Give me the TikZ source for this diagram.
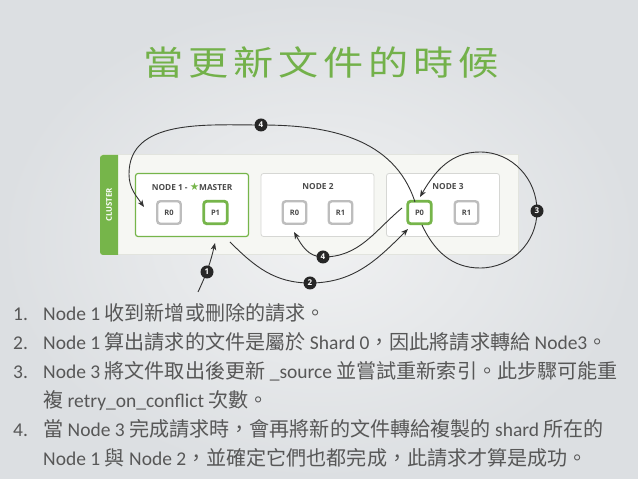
\documentclass[tikz,border=0pt]{standalone}
\usepackage{fontspec}
\setmainfont{Carlito}
\newfontfamily\cjk[Scale=1.03]{Noto Sans CJK TC}
\newfontfamily\cjktitle[LetterSpace=12]{Noto Sans CJK TC}
\newfontfamily\osans{Open Sans}
\newfontfamily\dvs{DejaVu Sans}
\usetikzlibrary{arrows.meta}
\definecolor{bgin}{HTML}{F0F1F2}
\definecolor{bgout}{HTML}{DCDFE2}
\definecolor{esgreen}{HTML}{76B54A}
\definecolor{ttlgreen}{HTML}{73B14A}
\definecolor{bandfill}{HTML}{F6F7F3}
\definecolor{bandline}{HTML}{E2E4DE}
\definecolor{boxline}{HTML}{D6D7D4}
\definecolor{shardline}{HTML}{BDBDBD}
\definecolor{lbl}{HTML}{4A4A4A}
\definecolor{arrowc}{HTML}{333333}
\definecolor{txt}{HTML}{575757}
\newcommand\zh[1]{{\cjk #1}}
\tikzset{
  nodebox/.style={draw=boxline, line width=0.8pt, fill=white, rounded corners=2.5pt,
    minimum width=113pt, minimum height=63pt, inner sep=0pt},
  masterbox/.style={nodebox, draw=esgreen, line width=1.2pt},
  hdr/.style={font=\osans\bfseries\fontsize{8.3}{9}\selectfont, text=lbl, inner sep=0pt},
  shard/.style={draw=shardline, line width=2.4pt, fill=white, rounded corners=3pt,
    minimum width=23.5pt, minimum height=22.5pt, inner sep=0pt,
    font=\osans\bfseries\fontsize{7.5}{8}\selectfont, text=lbl},
  pshard/.style={shard, draw=esgreen, line width=2.8pt},
  arr/.style={draw=arrowc, line width=0.9pt, -{Stealth[length=7pt,width=5.5pt,inset=2pt]}},
  num/.style={circle, fill=black!85, minimum size=13pt, inner sep=0pt,
    font=\osans\bfseries\fontsize{8}{8}\selectfont, text=white},
  line/.style={anchor=base west, inner sep=0pt, text=txt, font=\fontsize{19.5}{22}\selectfont},
}
\begin{document}
\begin{tikzpicture}[x=1pt,y=1pt]
\useasboundingbox (0,0) rectangle (638,479);
\shade[inner color=bgin, outer color=bgout] (0,0) rectangle (638,479);

% title
\node[anchor=base, inner sep=0pt, text=ttlgreen] (title) at (321,403)
  {\scalebox{1.18}[1]{\cjktitle\fontsize{34}{38}\selectfont 當更新文件的時候}};

% cluster band
\node[draw=bandline, line width=0.6pt, fill=bandfill, anchor=south west,
  minimum width=418pt, minimum height=100pt, inner sep=0pt] (cluster) at (100,224) {};
\fill[esgreen] (118,224) -- (103,224) arc[start angle=270, end angle=180, radius=3]
  -- (100,321) arc[start angle=180, end angle=90, radius=3] -- (118,324) -- cycle;
\node[rotate=90, text=white, inner sep=0pt, font=\osans\bfseries\fontsize{7.8}{8}\selectfont] (cltxt) at (109,274) {CLUSTER};

% nodes
\node[masterbox] (n1) at (192,274) {};
\node[nodebox] (n2) at (317.5,274) {};
\node[nodebox] (n3) at (443,274) {};
\node[hdr] (h1) at (192,292) {NODE 1 - {\dvs\fontsize{10.5}{9}\selectfont\color{esgreen}★}MASTER};
\node[hdr] (h2) at (318,292) {NODE 2};
\node[hdr] (h3) at (448,292) {NODE 3};

% shards
\node[shard] (r0a) at (169,266.5) {R0};
\node[pshard] (p1) at (215.5,266.5) {P1};
\node[shard] (r0b) at (294.5,266.5) {R0};
\node[shard] (r1b) at (340.5,266.5) {R1};
\node[pshard] (p0) at (419.5,266.5) {P0};
\node[shard] (r1c) at (466.5,266.5) {R1};

% arrow coordinates
\coordinate (a1s) at (198,187);
\coordinate (a1t) at (215,236);
\coordinate (c1) at (207,207);
\coordinate (a2s) at (230,237);
\coordinate (c2) at (310,196);
\coordinate (a2t) at (408,250);
\coordinate (a4s) at (402,271);
\coordinate (c4) at (323,222);
\coordinate (a4t) at (294,247);
\coordinate (u4s) at (415,277);
\coordinate (cu4) at (261,354);
\coordinate (u4m) at (129,305);
\coordinate (u4t) at (144,272);
\coordinate (a3s) at (422,254);
\coordinate (a3b) at (480,211);
\coordinate (c3) at (537,268);
\coordinate (a3u) at (480,327);
\coordinate (a3t) at (420,282);

\draw[arr] (a1s) to[bend right=6] (a1t);
\draw[arr] (a2s) to[out=-45, in=180] (c2) to[out=0, in=-135] (a2t);
\draw[arr] (a4s) to[out=-140, in=0] (c4) to[out=180, in=-60] (a4t);
\draw[arr] (u4s) to[out=108, in=0] (cu4) to[out=180, in=90] (u4m) to[out=-90, in=125] (u4t);
\draw[arr] (a3s) to[out=-65, in=180] (a3b) to[out=0, in=-90] (c3) to[out=90, in=0] (a3u) to[out=180, in=60] (a3t);

\node[num] (l1) at (c1) {1};
\node[num] (l2) at (c2) {2};
\node[num] (l4) at (c4) {4};
\node[num] (l4u) at (cu4) {4};
\node[num] (l3) at (c3) {3};

% list
\node[line] (k1) at (13,158) {1.};
\node[line] (k2) at (13,129) {2.};
\node[line] (k3) at (13,100) {3.};
\node[line] (k4) at (13,42) {4.};
\node[line] (t1) at (43,158) {Node 1 \zh{收到新增或刪除的請求。}};
\node[line] (t2) at (43,129) {Node 1 \zh{算出請求的文件是屬於} Shard 0\zh{，因此將請求轉給} Node3\zh{。}};
\node[line] (t3) at (43,100) {Node 3 \zh{將文件取出後更新} \_source \zh{並嘗試重新索引。此步驟可能重}};
\node[line] (t3b) at (43,71) {\zh{複} retry\_on\_conflict \zh{次數。}};
\node[line] (t4) at (43,42) {\zh{當} Node 3 \zh{完成請求時，會再將新的文件轉給複製的} shard \zh{所在的}};
\node[line] (t4b) at (43,13) {Node 1 \zh{與} Node 2\zh{，並確定它們也都完成，此請求才算是成功。}};
\end{tikzpicture}
\end{document}
